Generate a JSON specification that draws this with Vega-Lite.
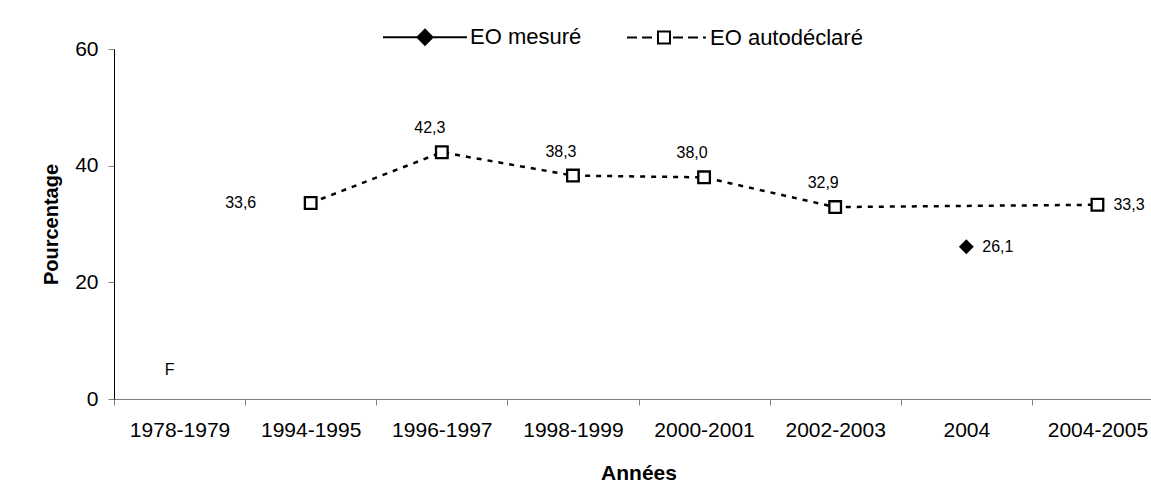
{
  "$schema": "https://vega.github.io/schema/vega-lite/v6.json",
  "width": 1049,
  "height": 350,
  "autosize": {"type": "none"},
  "padding": {"left": 114, "top": 49, "right": 0, "bottom": 87},
  "background": "white",
  "config": {
    "view": {"stroke": null},
    "font": "Liberation Sans",
    "text": {"font": "Liberation Sans", "fontSize": 16, "color": "black"}
  },
  "data": {
    "values": [
      {"annee": "1978-1979", "serie": "EO autodéclaré", "valeur": null, "etiquette": "F"},
      {"annee": "1994-1995", "serie": "EO autodéclaré", "valeur": 33.6, "etiquette": "33,6"},
      {"annee": "1996-1997", "serie": "EO autodéclaré", "valeur": 42.3, "etiquette": "42,3"},
      {"annee": "1998-1999", "serie": "EO autodéclaré", "valeur": 38.3, "etiquette": "38,3"},
      {"annee": "2000-2001", "serie": "EO autodéclaré", "valeur": 38.0, "etiquette": "38,0"},
      {"annee": "2002-2003", "serie": "EO autodéclaré", "valeur": 32.9, "etiquette": "32,9"},
      {"annee": "2004", "serie": "EO mesuré", "valeur": 26.1, "etiquette": "26,1"},
      {"annee": "2004-2005", "serie": "EO autodéclaré", "valeur": 33.3, "etiquette": "33,3"}
    ]
  },
  "encoding": {
    "x": {
      "field": "annee",
      "type": "nominal",
      "sort": null,
      "scale": {
        "type": "band",
        "domain": ["1978-1979", "1994-1995", "1996-1997", "1998-1999", "2000-2001", "2002-2003", "2004", "2004-2005"],
        "paddingInner": 0,
        "paddingOuter": 0
      },
      "axis": {
        "title": "Années",
        "titleFontSize": 21,
        "titleFontWeight": "bold",
        "titleColor": "black",
        "titlePadding": 22,
        "labelAngle": 0,
        "labelFontSize": 21,
        "labelColor": "black",
        "labelPadding": 14,
        "tickBand": "extent",
        "tickSize": 6,
        "tickColor": "#808080",
        "domainColor": "#808080",
        "grid": false
      }
    }
  },
  "layer": [
    {
      "transform": [{"filter": "datum.serie === 'EO autodéclaré' && datum.valeur != null"}],
      "mark": {"type": "line", "color": "black", "strokeWidth": 2.5, "strokeDash": [5, 6]},
      "encoding": {
        "y": {
          "field": "valeur",
          "type": "quantitative",
          "scale": {"domain": [0, 60], "nice": false},
          "axis": {
            "values": [0, 20, 40, 60],
            "title": "Pourcentage",
            "titleFontSize": 20,
            "titleFontWeight": "bold",
            "titleColor": "black",
            "titlePadding": 13,
            "labelFontSize": 21,
            "labelColor": "black",
            "labelPadding": 10,
            "tickSize": 6,
            "tickColor": "#808080",
            "domainColor": "black",
            "grid": false
          }
        }
      }
    },
    {
      "transform": [{"filter": "datum.valeur != null"}],
      "mark": {"type": "point", "filled": true, "stroke": "black", "strokeWidth": 2.3, "size": 135, "opacity": 1},
      "encoding": {
        "y": {"field": "valeur", "type": "quantitative"},
        "shape": {
          "field": "serie",
          "type": "nominal",
          "scale": {"domain": ["EO autodéclaré", "EO mesuré"], "range": ["square", "diamond"]},
          "legend": null
        },
        "fill": {
          "field": "serie",
          "type": "nominal",
          "scale": {"domain": ["EO mesuré", "EO autodéclaré"], "range": ["black", "white"]},
          "legend": {
            "orient": "none",
            "legendX": 330,
            "legendY": -23,
            "direction": "horizontal",
            "title": null,
            "padding": 0,
            "labelFont": "Liberation Sans",
            "labelFontSize": 22,
            "labelColor": "black",
            "labelLimit": 300,
            "labelOffset": 4,
            "columnPadding": 41,
            "symbolSize": 144,
            "symbolStrokeWidth": 2,
            "encoding": {
              "symbols": {
                "shape": {
                  "condition": {"test": "datum.value === 'EO mesuré'", "value": "M-12,0L2,0M-5,-1.25L-3.75,0L-5,1.25L-6.25,0Z"},
                  "value": "M-11.33,0L-9.67,0M-8.83,0L-7.17,0M-6.17,-1L-4.17,-1L-4.17,1L-6.17,1ZM-3.67,0L-2,0M-1.17,0L0.5,0M1.33,0L1.83,0"
                },
                "stroke": {"value": "black"},
                "strokeWidth": {"value": 2},
                "opacity": {"value": 1}
              }
            }
          }
        }
      }
    },
    {
      "transform": [{"filter": {"field": "annee", "oneOf": ["1996-1997", "1998-1999", "2000-2001", "2002-2003"]}}],
      "mark": {"type": "text", "dx": -12, "dy": -24, "align": "center", "baseline": "middle"},
      "encoding": {
        "y": {"field": "valeur", "type": "quantitative"},
        "text": {"field": "etiquette"}
      }
    },
    {
      "transform": [{"filter": {"field": "annee", "oneOf": ["1994-1995"]}}],
      "mark": {"type": "text", "dx": -70, "dy": 0, "align": "center", "baseline": "middle"},
      "encoding": {
        "y": {"field": "valeur", "type": "quantitative"},
        "text": {"field": "etiquette"}
      }
    },
    {
      "transform": [{"filter": {"field": "annee", "oneOf": ["2004", "2004-2005"]}}],
      "mark": {"type": "text", "dx": 16, "dy": 0, "align": "left", "baseline": "middle"},
      "encoding": {
        "y": {"field": "valeur", "type": "quantitative"},
        "text": {"field": "etiquette"}
      }
    },
    {
      "transform": [{"filter": "datum.etiquette === 'F'"}],
      "mark": {"type": "text", "dx": -10, "dy": -29, "align": "center", "baseline": "middle"},
      "encoding": {
        "y": {"datum": 0, "type": "quantitative"},
        "text": {"field": "etiquette"}
      }
    }
  ]
}
